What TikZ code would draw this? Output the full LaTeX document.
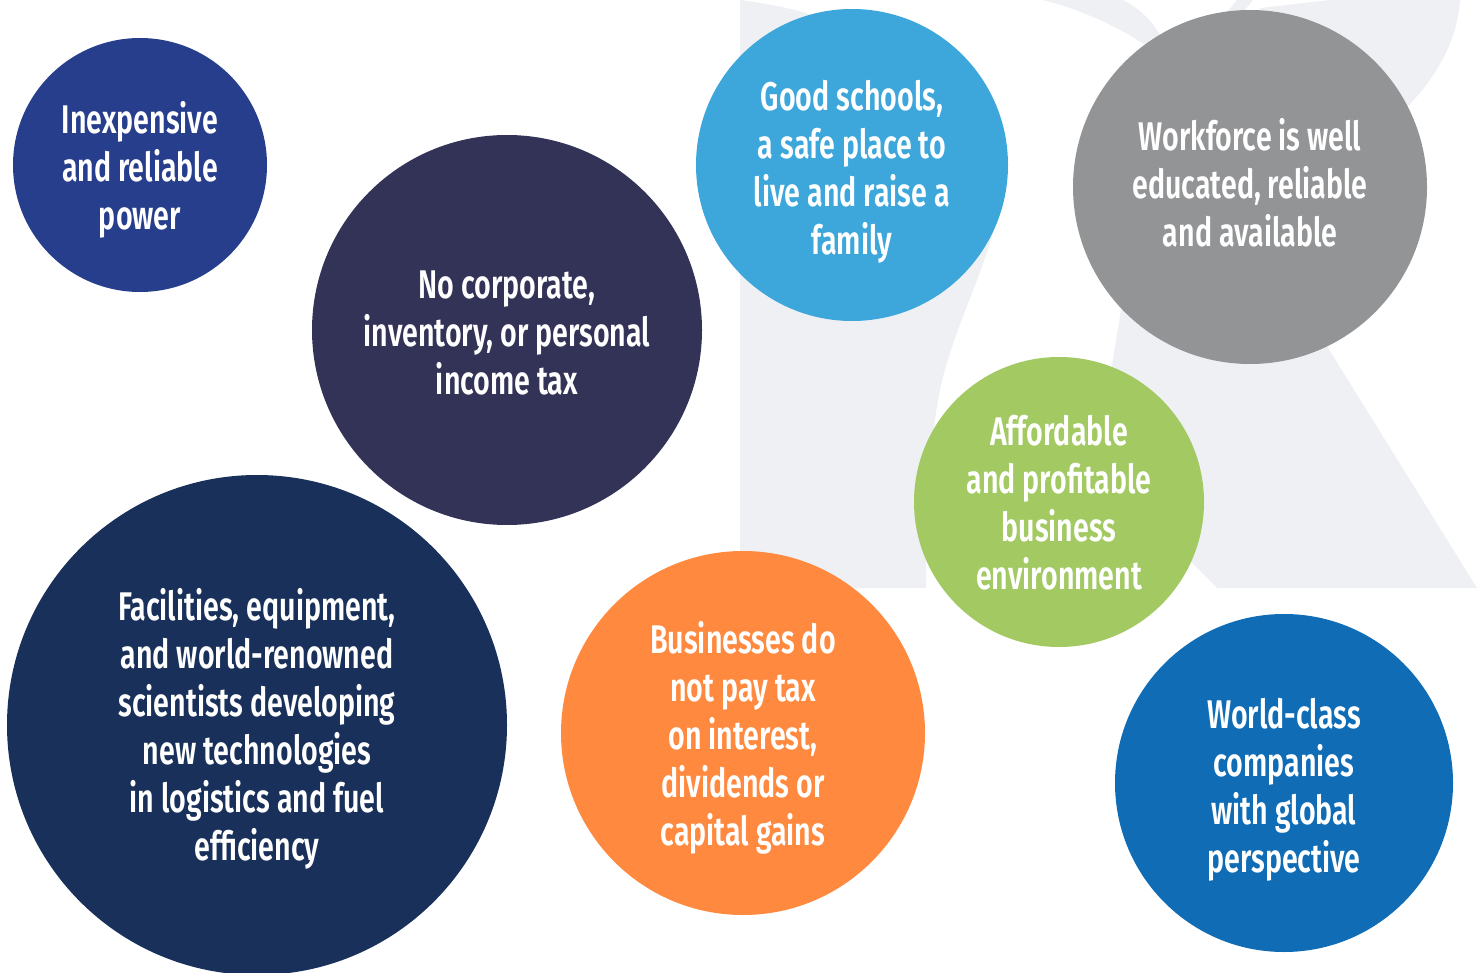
\documentclass[tikz,border=0pt]{standalone}
\usepackage{fontspec}
\newfontfamily\cfont{Fira Sans}[FakeStretch=0.715, UprightFont=* SemiBold]
\definecolor{rbg}{HTML}{EFF0F4}
\definecolor{cpower}{HTML}{263E8B}
\definecolor{ctax}{HTML}{333358}
\definecolor{cschool}{HTML}{3DA7DB}
\definecolor{cwork}{HTML}{939496}
\definecolor{cafford}{HTML}{A3C963}
\definecolor{cfacil}{HTML}{19315A}
\definecolor{cbusi}{HTML}{FF8A3F}
\definecolor{cworld}{HTML}{0F6CB5}
\begin{document}
\begin{tikzpicture}[x=1pt,y=-1pt,
  bub/.style={circle, inner sep=0pt},
  txt/.style={inner sep=0pt, text=white, align=center,
    font=\cfont\fontsize{40}{48}\selectfont}]
\useasboundingbox (0,0) rectangle (1477,973);
% background R
\fill[rbg] (740,0) .. controls (770,4) and (800,10) .. (817,17) -- (930,120)
  .. controls (985,180) and (998,215) .. (993,233)
  .. controls (980,280) and (950,340) .. (940,390)
  .. controls (930,440) and (926,500) .. (926,588) -- (740,588) -- cycle;
\fill[rbg] (1043,0) -- (1123,0) .. controls (1138,8) and (1150,18) .. (1160,35)
  -- (1200,100) -- (1150,120) -- (1163,57) .. controls (1130,33) and (1090,12) .. (1043,0) -- cycle;
\fill[rbg] (1237,0) -- (1253,0) -- (1230,28) -- (1214,28) -- cycle;
\fill[rbg] (1260,8) -- (1330,0) -- (1460,0) .. controls (1458,40) and (1435,80) .. (1404,110)
  -- (1350,130) -- (1255,35) -- cycle;
\fill[rbg] (1200,250) -- (1125,290) -- (1121,310) -- (1112,365) -- (1090,480)
  -- (1192,563) -- (1217,588) -- (1477,588) -- (1325,343) -- (1330,300) -- cycle;
% bubbles
\node[bub, fill=cpower, minimum size=254pt] (power) at (140,165) {};
\node[bub, fill=ctax, minimum size=390pt] (tax) at (507,330) {};
\node[bub, fill=cschool, minimum size=312pt] (school) at (852,165) {};
\node[bub, fill=cwork, minimum size=354pt] (work) at (1250,187) {};
\node[bub, fill=cafford, minimum size=290pt] (afford) at (1059,502) {};
\node[bub, fill=cfacil, minimum size=500pt] (facil) at (257,725) {};
\node[bub, fill=cbusi, minimum size=364pt] (busi) at (743,733) {};
\node[bub, fill=cworld, minimum size=338pt] (world) at (1284,783) {};
% texts
\node[txt] (powert) at ([yshift=-5pt]power.center) {Inexpensive\\and reliable\\power};
\node[txt] (taxt) at ([yshift=-3pt]tax.center) {No corporate,\\inventory, or personal\\income tax};
\node[txt] (schoolt) at ([yshift=-7pt]school.center) {Good schools,\\a safe place to\\live and raise a\\family};
\node[txt] (workt) at ([yshift=4pt]work.center) {Workforce is well\\educated, reliable\\and available};
\node[txt] (affordt) at ([yshift=-1pt]afford.center) {Affordable\\and profitable\\business\\environment};
\node[txt] (facilt) at ([yshift=-4pt]facil.center) {Facilities, equipment,\\and world-renowned\\scientists developing\\new technologies\\in logistics and fuel\\efficiency};
\node[txt] (busit) at ([yshift=-5pt]busi.center) {Businesses do\\not pay tax\\on interest,\\dividends or\\capital gains};
\node[txt] (worldt) at ([yshift=-7pt]world.center) {World-class\\companies\\with global\\perspective};
\end{tikzpicture}
\end{document}
